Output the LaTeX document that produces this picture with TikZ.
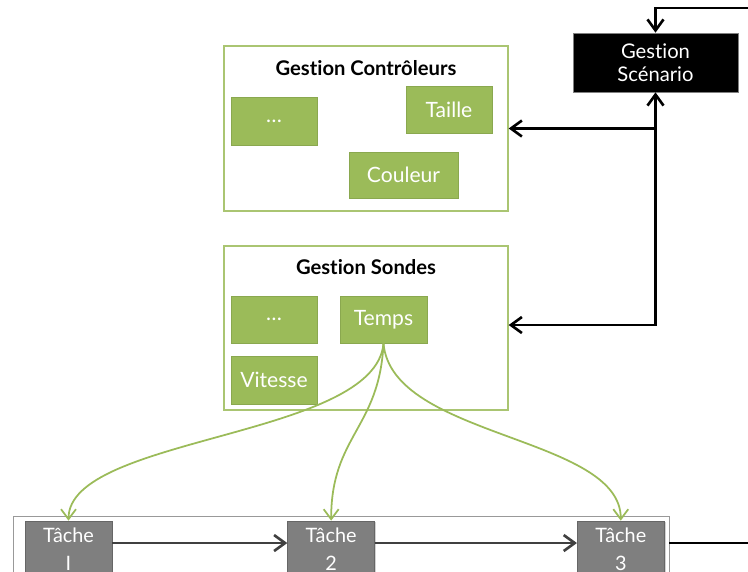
\documentclass[tikz,border=0pt]{standalone}
\usepackage{fontspec}
\setmainfont{Lato}[RawFeature={-liga}]
\usepackage{tikz}
\usetikzlibrary{positioning, calc, arrows.meta, shadows}
\definecolor{ctrlgreen}{HTML}{9BBB59}
\definecolor{boxedge}{HTML}{8AA84F}
\definecolor{taskgray}{HTML}{7F7F7F}
\definecolor{flowgray}{HTML}{404040}

\begin{document}
\begin{tikzpicture}[
        x=0.02cm, y=-0.02cm,
        frame/.style={draw=ctrlgreen!85, line width=0.8pt, fill=white, minimum width=5.68cm, minimum height=3.3cm},
        frametitle/.style={font=\bfseries\fontsize{11.5}{13}\selectfont, inner sep=0pt},
        greenbox/.style={draw=boxedge, fill=ctrlgreen, text=white, font=\fontsize{12}{14}\selectfont,
            minimum width=1.72cm, minimum height=0.94cm, inner sep=0pt,
            drop shadow={shadow xshift=0.8pt, shadow yshift=-0.8pt, opacity=0.35}},
        taskbox/.style={draw=black!60, fill=taskgray, text=white, align=center, font=\fontsize{11.3}{16}\selectfont,
            minimum width=1.74cm, minimum height=1.12cm, inner sep=0pt,
            drop shadow={shadow xshift=0.8pt, shadow yshift=-0.8pt, opacity=0.35}},
        link/.style={line width=1.5pt, draw=black, arrows={-Straight Barb[length=2.2mm, width=3.2mm]}},
        flow/.style={line width=1.5pt, draw=flowgray, arrows={-Straight Barb[length=2.2mm, width=3.2mm]}},
        probe/.style={line width=1pt, draw=ctrlgreen, arrows={-Straight Barb[length=2mm, width=3mm]}},
    ]
    \useasboundingbox (0,0) rectangle (748,572);

    % scenario
    \node[fill=black, draw=black!50, text=white, align=center, font=\fontsize{11.5}{13}\selectfont,
        minimum width=3.3cm, minimum height=1.18cm, inner sep=0pt] (scen) at (655.5,62.5) {Gestion\\Scénario};

    % controleurs
    \node[frame] (ctrlframe) at (366,128.5) {};
    \node[frametitle] (ctrltitle) at (366,68) {Gestion Contrôleurs};
    \node[greenbox, minimum height=0.96cm] (cdots) at (274,121) {\dots};
    \node[greenbox] (taille) at (449,109.5) {Taille};
    \node[greenbox, minimum width=2.18cm, minimum height=0.92cm] (couleur) at (403.5,175) {Couleur};

    % sondes
    \node[frame, minimum height=3.28cm] (sondesframe) at (366,328) {};
    \node[frametitle] (sondestitle) at (366,267) {Gestion Sondes};
    \node[greenbox] (sdots) at (274,319.5) {\dots};
    \node[greenbox, minimum width=1.74cm] (temps) at (383.5,319.5) {Temps};
    \node[greenbox, minimum height=0.96cm] (vitesse) at (274,380) {Vitesse};

    % taches
    \node[draw=black!40, fill=white, minimum width=13.12cm, minimum height=1.28cm, inner sep=0pt,
        drop shadow={shadow xshift=0.8pt, shadow yshift=-0.8pt, opacity=0.3}] (tasks) at (341,548) {};
    \node[taskbox] (t1) at (68.5,549) {Tâche\\I};
    \node[taskbox, right=3.5cm of t1] (t2) {Tâche\\2};
    \node[taskbox, right=4.04cm of t2] (t3) {Tâche\\3};

    \draw[flow] ([yshift=3.4pt]t1.east) -- ([yshift=3.4pt]t2.west);
    \draw[flow] ([yshift=3.4pt]t2.east) -- ([yshift=3.4pt]t3.west);

    \draw[probe] (temps.south) .. controls +(-8,95) and +(0,-85) .. (t1.north);
    \draw[probe] (temps.south) .. controls +(-4,85) and +(0,-85) .. (t2.north);
    \draw[probe] (temps.south) .. controls +(8,95) and +(0,-85) .. (t3.north);

    % boucle
    \coordinate (loopin) at (748,8);
    \coordinate (loopout) at (748,543);
    \draw[link] (loopin) -| (scen.north);
    \draw[link, arrows={Straight Barb[length=2.2mm, width=3.2mm]-Straight Barb[length=2.2mm, width=3.2mm]}]
        ([yshift=1.7pt]sondesframe.east) -- ([yshift=1.7pt]sondesframe.east -| scen.south) -- (scen.south);
    \draw[link] (ctrlframe.east -| scen.south) -- (ctrlframe.east);
    \draw[line width=1.5pt] (tasks.east |- loopout) -- (loopout);

    \end{tikzpicture}
\end{document}
